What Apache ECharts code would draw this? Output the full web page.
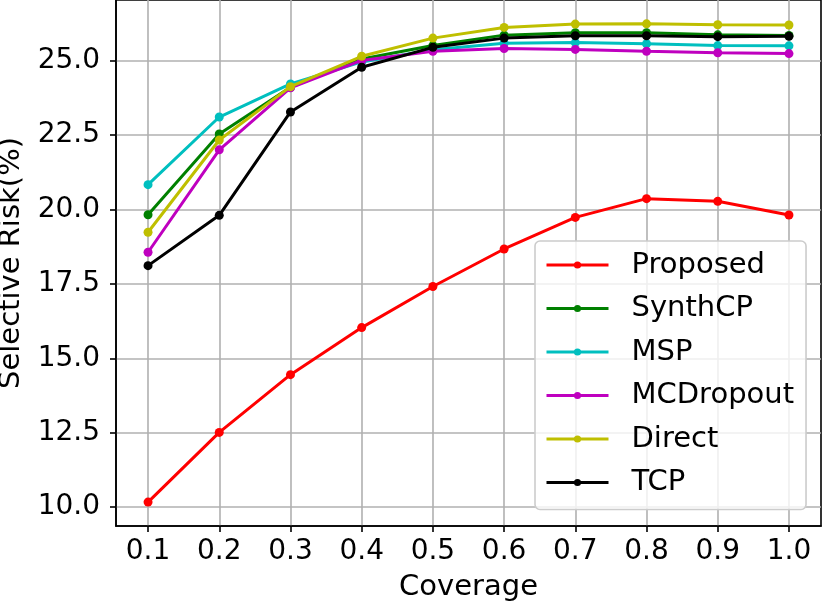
<!DOCTYPE html>
<html>
<head>
<meta charset="utf-8">
<script src="https://cdn.jsdelivr.net/npm/echarts@6/dist/echarts.min.js"></script>
<style>
    html, body { margin: 0; padding: 0; background: #fff; }
    #chart { width: 822px; height: 605px; }
</style>
</head>
<body>
<div id="chart"></div>
<script>
// 数据
var coverage = [0.1, 0.2, 0.3, 0.4, 0.5, 0.6, 0.7, 0.8, 0.9, 1.0];
var proposed = [10.17, 12.51, 14.45, 16.03, 17.41, 18.67, 19.73, 20.36, 20.27, 19.81];
var synthCP = [19.82, 22.53, 24.10, 25.05, 25.50, 25.85, 25.93, 25.93, 25.86, 25.84];
var msp = [20.83, 23.10, 24.21, 24.95, 25.36, 25.58, 25.60, 25.56, 25.50, 25.49];
var mcDropout = [18.56, 22.00, 24.08, 25.00, 25.31, 25.40, 25.37, 25.31, 25.26, 25.23];
var direct = [19.23, 22.33, 24.12, 25.14, 25.75, 26.11, 26.22, 26.23, 26.20, 26.19];
var tcp = [18.11, 19.80, 23.27, 24.77, 25.44, 25.75, 25.83, 25.83, 25.80, 25.81];

// 刻度
var xTicks = [0.1, 0.2, 0.3, 0.4, 0.5, 0.6, 0.7, 0.8, 0.9, 1.0];
var yTicks = [10.0, 12.5, 15.0, 17.5, 20.0, 22.5, 25.0];

var seriesNames = ['Proposed', 'SynthCP', 'MSP', 'MCDropout', 'Direct', 'TCP'];
var seriesValues = [proposed, synthCP, msp, mcDropout, direct, tcp];
var seriesColors = ['#ff0000', '#008000', '#00bfbf', '#bf00bf', '#bfbf00', '#000000'];

var FONT = 'DejaVu Sans';
var FS = 28;   // 刻度字号
var FS2 = 29;  // 轴名、图例字号

function pairs(ys) {
    var out = [];
    for (var i = 0; i < coverage.length; i++) {
        out.push([coverage[i], ys[i]]);
    }
    return out;
}

var series = [];
for (var i = 0; i < seriesNames.length; i++) {
    series.push({
        name: seriesNames[i],
        type: 'line',
        data: pairs(seriesValues[i]),
        symbol: 'circle',
        symbolSize: 9,
        showSymbol: true,
        lineStyle: { width: 3, color: seriesColors[i] },
        itemStyle: { color: seriesColors[i] },
        z: 10 + i,
        animation: false
    });
}

var myChart = echarts.init(document.getElementById('chart'), null, { renderer: 'canvas' });

var option = {
    backgroundColor: '#ffffff',
    animation: false,
    textStyle: { fontFamily: FONT },
    grid: {
        left: 116, right: 1, top: 0, bottom: 79,
        containLabel: false,
        outerBoundsMode: 'none',
        show: true,
        borderColor: '#000',
        borderWidth: 1.6
    },
    xAxis: {
        type: 'value',
        min: 0.055,
        max: 1.045,
        name: 'Coverage',
        nameLocation: 'middle',
        nameGap: 47,
        nameTextStyle: { fontSize: FS2, color: '#000', fontFamily: FONT },
        axisLine: { show: true, onZero: false, lineStyle: { color: '#000', width: 1.6 } },
        axisTick: { show: true, inside: false, length: 6, customValues: xTicks, lineStyle: { color: '#000', width: 1.6 } },
        axisLabel: {
            fontSize: FS, color: '#000', fontFamily: FONT, margin: 12,
            customValues: xTicks,
            formatter: function (v) { return v.toFixed(1); }
        },
        splitLine: { show: true, lineStyle: { color: '#b0b0b0', width: 1.6 } }
    },
    yAxis: {
        type: 'value',
        min: 9.367,
        max: 27.03,
        name: 'Selective Risk(%)',
        nameLocation: 'middle',
        nameGap: 90,
        nameRotate: 90,
        nameTextStyle: { fontSize: FS2, color: '#000', fontFamily: FONT },
        axisLine: { show: true, onZero: false, lineStyle: { color: '#000', width: 1.6 } },
        axisTick: { show: true, inside: false, length: 6, customValues: yTicks, lineStyle: { color: '#000', width: 1.6 } },
        axisLabel: {
            fontSize: FS, color: '#000', fontFamily: FONT, margin: 16,
            customValues: yTicks,
            formatter: function (v) { return v.toFixed(1); }
        },
        splitLine: { show: true, lineStyle: { color: '#b0b0b0', width: 1.6 } }
    },
    legend: {
        data: seriesNames,
        orient: 'vertical',
        left: 535,
        top: 241,
        padding: [9, 12, 12, 10],
        itemWidth: 62,
        itemHeight: 9,
        itemGap: 13.5,
        lineStyle: { width: 3 },
        backgroundColor: 'rgba(255,255,255,0.8)',
        borderColor: '#cccccc',
        borderWidth: 1.6,
        borderRadius: 5,
        textStyle: {
            fontSize: FS2, color: '#000', fontFamily: FONT,
            lineHeight: 30, padding: [0, 0, 0, 18]
        }
    },
    series: series
};

myChart.setOption(option);
</script>
</body>
</html>
